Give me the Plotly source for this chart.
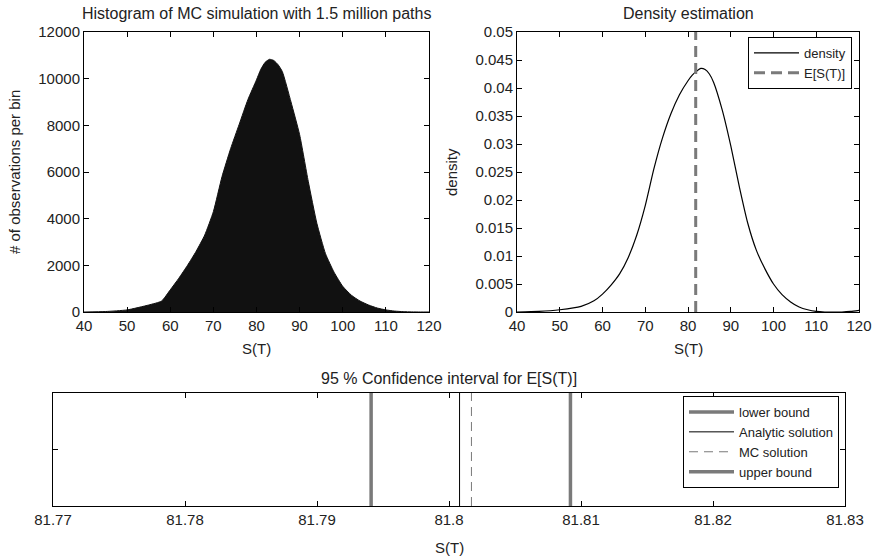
import plotly.graph_objects as go

# ---------------- data ----------------
hist_x = [40, 45, 50, 55, 58, 60, 62, 64, 66, 68, 70, 72, 74, 76, 78, 80, 81, 82, 83, 84,
          85, 86, 88, 90, 92, 94, 96, 98, 100, 102, 104, 106, 108, 110, 112, 114, 116, 118, 120]
hist_counts = [0, 20, 90, 300, 470, 950, 1450, 2000, 2600, 3300, 4300, 5800, 7000, 8050,
               9100, 9950, 10400, 10700, 10830, 10780, 10600, 10300, 9000, 7600, 5600, 3800,
               2500, 1700, 1100, 720, 470, 300, 170, 90, 40, 15, 5, 0, 0]

dens_x = [40, 45, 50, 55, 58, 60, 62, 64, 66, 68, 70, 72, 74, 76, 78, 80, 81, 82, 83, 84,
          85, 86, 88, 90, 92, 94, 96, 98, 100, 102, 104, 106, 108, 110, 112, 114, 116, 118, 120]
dens_y = [0.0, 0.0001, 0.0004, 0.001, 0.002, 0.0032, 0.0048, 0.0068, 0.0097, 0.0137,
          0.0190, 0.0255, 0.0310, 0.0354, 0.0388, 0.0413, 0.0423, 0.0430, 0.0435, 0.0433,
          0.0425, 0.0410, 0.0361, 0.0297, 0.0224, 0.0158, 0.0110, 0.0077, 0.0050, 0.0031,
          0.0018, 0.0009, 0.0004, 0.0001, 0.0, 0.0, 0.0, 0.0001, 0.0003]

expected_value = 81.8008
lower_bound = 81.7941
analytic_solution = 81.8008
mc_solution = 81.8017
upper_bound = 81.8092

hist_xticks = [40, 50, 60, 70, 80, 90, 100, 110, 120]
hist_yticks = [0, 2000, 4000, 6000, 8000, 10000, 12000]
hist_yticklabels = ["0", "2000", "4000", "6000", "8000", "10000", "12000"]
dens_yticks = [0, 0.005, 0.01, 0.015, 0.02, 0.025, 0.03, 0.035, 0.04, 0.045, 0.05]
dens_yticklabels = ["0", "0.005", "0.01", "0.015", "0.02", "0.025", "0.03", "0.035",
                    "0.04", "0.045", "0.05"]
ci_xticks = [81.77, 81.78, 81.79, 81.80, 81.81, 81.82, 81.83]
ci_xticklabels = ["81.77", "81.78", "81.79", "81.8", "81.81", "81.82", "81.83"]

# ---------------- figure ----------------
W, H = 875, 559
FONT = "Liberation Sans, Arial, sans-serif"
TXT = "#222222"
GRAY = "#7a7a7a"

fig = go.Figure()

fig.add_trace(go.Scatter(x=hist_x, y=hist_counts, mode="lines", fill="tozeroy",
                         fillcolor="#111111",
                         line=dict(color="#111111", width=1, shape="spline", smoothing=0.5),
                         showlegend=False, xaxis="x", yaxis="y"))

fig.add_trace(go.Scatter(x=dens_x, y=dens_y, mode="lines", name="density",
                         line=dict(color="black", width=1.2, shape="spline", smoothing=0.5),
                         xaxis="x2", yaxis="y2", legend="legend"))
fig.add_trace(go.Scatter(x=[expected_value, expected_value], y=[0, 0.05], mode="lines",
                         name="E[S(T)]", line=dict(color=GRAY, width=3, dash="11px,6px"),
                         xaxis="x2", yaxis="y2", legend="legend"))

fig.add_trace(go.Scatter(x=[lower_bound, lower_bound], y=[0, 1], mode="lines",
                         name="lower bound", line=dict(color=GRAY, width=3.5),
                         xaxis="x3", yaxis="y3", legend="legend2"))
fig.add_trace(go.Scatter(x=[analytic_solution, analytic_solution], y=[0, 1], mode="lines",
                         name="Analytic solution", line=dict(color="black", width=1),
                         xaxis="x3", yaxis="y3", legend="legend2"))
fig.add_trace(go.Scatter(x=[mc_solution, mc_solution], y=[0, 1], mode="lines",
                         name="MC solution", line=dict(color=GRAY, width=1, dash="9px,6px"),
                         xaxis="x3", yaxis="y3", legend="legend2"))
fig.add_trace(go.Scatter(x=[upper_bound, upper_bound], y=[0, 1], mode="lines",
                         name="upper bound", line=dict(color=GRAY, width=3.5),
                         xaxis="x3", yaxis="y3", legend="legend2"))


def px_x(p):
    return p / W


def px_y(p):
    return 1 - p / H


axis_common = dict(showline=True, linecolor="black", linewidth=1, mirror="allticks",
                   ticks="inside", ticklen=5, tickcolor="black", showgrid=False,
                   zeroline=False, automargin=False,
                   tickfont=dict(family=FONT, size=15, color=TXT))


def ann(text, x, y, size=15, angle=0):
    return dict(text=text, x=px_x(x), y=px_y(y), xref="paper", yref="paper",
                showarrow=False, font=dict(family=FONT, size=size, color=TXT),
                xanchor="center", yanchor="middle", textangle=angle)


fig.update_layout(
    width=W, height=H,
    margin=dict(l=0, r=0, t=0, b=0, autoexpand=False),
    paper_bgcolor="white", plot_bgcolor="white",
    font=dict(family=FONT, color=TXT),
    xaxis=dict(domain=[px_x(84), px_x(429)], range=[40, 120], tickvals=hist_xticks,
               anchor="y", **axis_common),
    yaxis=dict(domain=[px_y(312), px_y(32)], range=[0, 12000], tickvals=hist_yticks,
               ticktext=hist_yticklabels, anchor="x", **axis_common),
    xaxis2=dict(domain=[px_x(517), px_x(859)], range=[40, 120], tickvals=hist_xticks,
                anchor="y2", **axis_common),
    yaxis2=dict(domain=[px_y(312), px_y(32)], range=[0, 0.05], tickvals=dens_yticks,
                ticktext=dens_yticklabels, anchor="x2", **axis_common),
    xaxis3=dict(domain=[px_x(53), px_x(845)], range=[81.77, 81.83], tickvals=ci_xticks,
                ticktext=ci_xticklabels, anchor="y3", **axis_common),
    yaxis3=dict(domain=[px_y(506), px_y(393)], range=[0, 1], tickvals=[0.5],
                showticklabels=False, anchor="x3", **axis_common),
    legend=dict(x=px_x(852), xanchor="right", y=px_y(37), yanchor="top",
                bordercolor="black", borderwidth=1, bgcolor="white",
                font=dict(family=FONT, size=13, color=TXT), tracegroupgap=0,
                itemwidth=45),
    legend2=dict(x=px_x(839), xanchor="right", y=px_y(396), yanchor="top",
                 bordercolor="black", borderwidth=1, bgcolor="white",
                 font=dict(family=FONT, size=13, color=TXT), tracegroupgap=0,
                 itemwidth=45),
    annotations=[
        ann("Histogram of MC simulation with 1.5 million paths", 256, 13, 16),
        ann("Density estimation", 688, 13, 16),
        ann("95 % Confidence interval for E[S(T)]", 449, 378, 16),
        ann("S(T)", 256, 348, 15),
        ann("S(T)", 688, 348, 15),
        ann("S(T)", 449, 547, 15),
        ann("# of observations per bin", 14, 172, 15, -90),
        ann("density", 451, 172, 15, -90),
    ],
)

fig.write_html("out.html", config={"displayModeBar": False},
               post_script="document.body.style.margin='0px';")
